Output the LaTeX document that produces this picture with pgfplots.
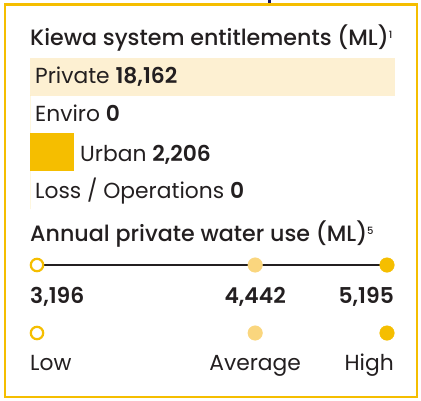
\documentclass[border=0pt]{standalone}
\usepackage{fontspec}
\setmainfont{Poppins}[BoldFont={* SemiBold}]
\newfontfamily\medfont{Poppins Medium}
\usepackage{xcolor}
\definecolor{VicYellow}{HTML}{F5BE00}
\definecolor{AvgYellow}{HTML}{FAD67E}
\definecolor{Cream}{HTML}{FDF0D2}
\definecolor{Ink}{HTML}{231F20}
\usepackage{pgfplots}
\pgfplotsset{compat=1.18}

\newcommand{\txt}{\fontsize{21.8pt}{25pt}\selectfont\color{Ink}}
\newcommand{\note}[1]{\raisebox{7pt}{\fontsize{10pt}{10pt}\selectfont #1}}

\begin{document}
\begin{tikzpicture}
% entitlement bars, length in ML
\begin{axis}[at={(30pt,-58.15pt)}, anchor=north west,
  width=365pt, height=150.8pt, scale only axis, hide axis,
  xbar, bar shift=0pt, bar width=38pt,
  xmin=0, xmax=18162, ymin=-0.5, ymax=3.5, y dir=reverse, clip=false]
  \addplot[fill=Cream, draw=none] coordinates {(18162,0)};
  \addplot[fill=VicYellow, draw=none] coordinates {(0,1)};
  \addplot[fill=VicYellow, draw=none] coordinates {(2206,2)};
  \addplot[fill=VicYellow, draw=none] coordinates {(0,3)};
\end{axis}

% annual private water use scale
\begin{axis}[at={(37pt,-265pt)}, anchor=north west,
  width=350pt, height=68pt, scale only axis, hide axis,
  xmin=3196, xmax=5195, ymin=0, ymax=1, y dir=reverse, clip=false]
  \addplot[Ink, line width=2pt] coordinates {(3196,0) (4442,0) (5195,0)};
  \addplot[only marks, mark=*, mark size=6.2pt,
    mark options={draw=VicYellow, fill=white, line width=2.2pt}]
    coordinates {(3196,0) (3196,1)};
  \addplot[only marks, mark=*, mark size=7.3pt,
    mark options={draw=AvgYellow, fill=AvgYellow}]
    coordinates {(4442,0) (4442,1)};
  \addplot[only marks, mark=*, mark size=7.3pt,
    mark options={draw=VicYellow, fill=VicYellow}]
    coordinates {(5195,0) (5195,1)};
  \node[anchor=base west, inner sep=0pt, xshift=-7pt, yshift=-38.3pt] at (axis cs:3196,0) {\txt\textbf{3,196}};
  \node[anchor=base, inner sep=0pt, yshift=-38.3pt] at (axis cs:4442,0) {\txt\textbf{4,442}};
  \node[anchor=base east, inner sep=0pt, xshift=7pt, yshift=-38.3pt] at (axis cs:5195,0) {\txt\textbf{5,195}};
  \node[anchor=base west, inner sep=0pt, xshift=-7pt, yshift=-105.7pt] at (axis cs:3196,0) {\txt Low};
  \node[anchor=base, inner sep=0pt, yshift=-105.7pt] at (axis cs:4442,0) {\txt Average};
  \node[anchor=base east, inner sep=0pt, xshift=7pt, yshift=-105.7pt] at (axis cs:5195,0) {\txt High};
\end{axis}

% frame and text in pixel coordinates (y downward)
\begin{axis}[at={(0pt,0pt)}, anchor=north west,
  width=421pt, height=400pt, scale only axis, hide axis,
  xmin=0, xmax=421, ymin=0, ymax=400, y dir=reverse, clip=false]
  \path (axis cs:0,0) rectangle (axis cs:421,400);
  \fill[Ink!70!blue] (axis cs:268,0) rectangle (axis cs:271,4);
  \draw[VicYellow, line width=2.2pt] (axis cs:5,4.5) rectangle (axis cs:416.8,397);
  \node[anchor=base west, inner sep=0pt] at (axis cs:30,45)
    {\txt\fontsize{22.2pt}{26pt}\selectfont\medfont Kiewa system entitlements (ML)\note{1}};
  \node[anchor=base west, inner sep=0pt] at (axis cs:35,83.3) {\txt Private \textbf{18,162}};
  \node[anchor=base west, inner sep=0pt] at (axis cs:35,121.5) {\txt Enviro \textbf{0}};
  \node[anchor=base west, inner sep=0pt] at (axis cs:80,161.7) {\txt Urban \textbf{2,206}};
  \node[anchor=base west, inner sep=0pt] at (axis cs:35,198.3) {\txt Loss / Operations \textbf{0}};
  \node[anchor=base west, inner sep=0pt] at (axis cs:30,241.7)
    {\txt\fontsize{22.2pt}{26pt}\selectfont\medfont Annual private water use (ML)\note{5}};
\end{axis}
\end{tikzpicture}
\end{document}
